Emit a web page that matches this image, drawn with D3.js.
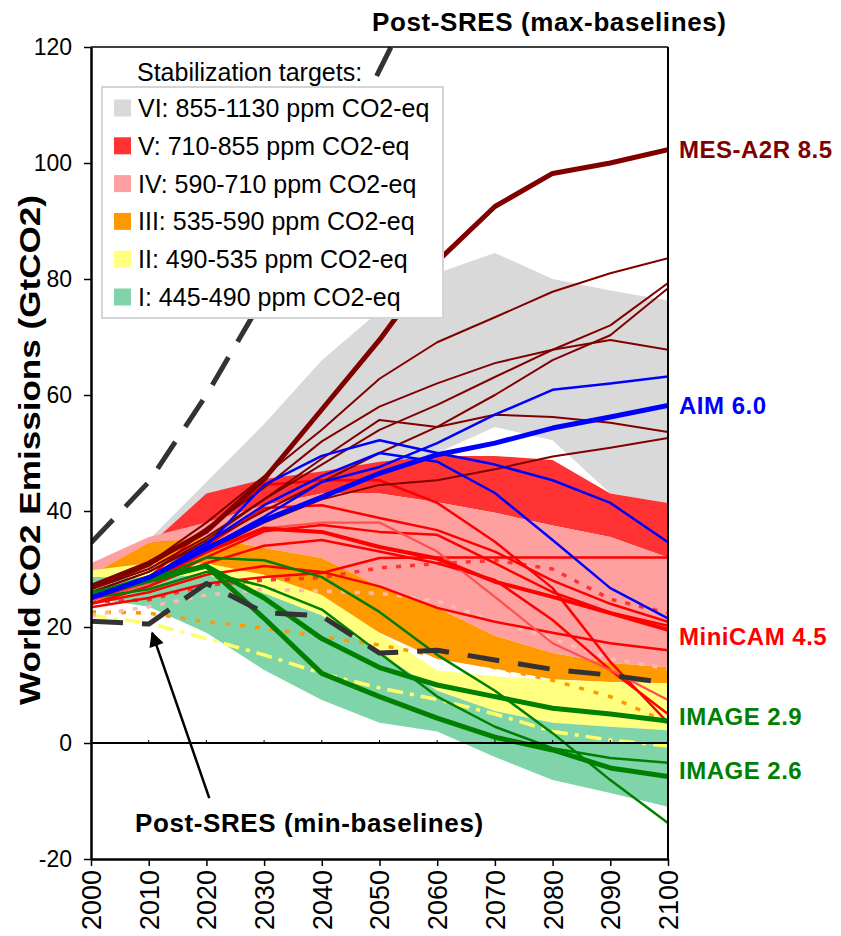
<!DOCTYPE html>
<html>
<head>
<meta charset="utf-8">
<script src="https://cdn.jsdelivr.net/npm/d3@7"></script>
<style>
  body { margin: 0; background: #fff; }
  text { font-family: "Liberation Sans", Arial, sans-serif; }
</style>
</head>
<body>
<svg id="chart" width="841" height="936"></svg>
<script>
const YEARS = d3.range(2000, 2101, 10);
const X_TICKS = d3.range(2000, 2101, 10);
const Y_TICKS = d3.range(-20, 121, 20);

// stabilization category ranges (GtCO2), upper / lower edge
const BAND_VI_HI  = [29, 35, 45, 55, 66, 74.5, 81, 84.5, 80, 78, 76.3];
const BAND_VI_LO  = [26, 30, 36, 40, 44, 47, 50, 54.5, 52.2, 43, 41.4];
const BAND_V_HI   = [28, 34, 43, 45.5, 46.8, 48.5, 49.5, 49.5, 48.8, 43, 41.4];
const BAND_V_LO   = [26, 33, 38, 41, 43, 43, 41.5, 39.7, 37.5, 35.5, 32];
const BAND_IV_HI  = [31, 35.5, 38, 41, 43, 43, 41.5, 39.7, 37.5, 35.5, 32];
const BAND_IV_LO  = [29, 34.5, 35.5, 33.6, 31.9, 27, 23.3, 18.5, 15.5, 13.8, 13.1];
const BAND_III_HI = [29, 34.5, 35.5, 33.6, 31.9, 27, 23.3, 18.5, 15.5, 13.8, 13.1];
const BAND_III_LO = [26, 28, 29, 27.5, 24.1, 19, 14.5, 12.8, 11, 10.5, 10.3];
const BAND_II_HI  = [29.8, 31, 31, 29, 25.5, 19, 12.5, 11.5, 10.9, 10.5, 10.3];
const BAND_II_LO  = [27.5, 27, 27, 25.8, 22, 15.5, 9, 5.5, 3.5, 2.8, 2.2];
const BAND_I_HI   = [28.6, 28.5, 29, 25.8, 22, 15.5, 9, 5.5, 3.5, 2.8, 2.2];
const BAND_I_LO   = [25, 23.5, 19, 12.6, 7.4, 3.5, 2, -2.4, -6.4, -8.6, -11];

const BAND_NAMES = ["VI: 855-1130 ppm CO2-eq", "V: 710-855 ppm CO2-eq", "IV: 590-710 ppm CO2-eq",
                    "III: 535-590 ppm CO2-eq", "II: 490-535 ppm CO2-eq", "I: 445-490 ppm CO2-eq"];

// baselines
const MAX_BASELINE = [34.5, 45, 60, 77, 96, 116, 136, null, null, null, null];
const MIN_BASELINE = [21, 20.5, 27.5, 22.5, 21.9, 15.5, 16, 14.3, 12.7, 11.7, 10.3];

// highlighted scenarios
const MES_A2R   = [27, 31, 36.5, 45.5, 57.5, 69.5, 83, 92.5, 98.2, 100, 102.3];
const AIM       = [25, 28.5, 33.5, 38.4, 42.4, 46.5, 49.7, 51.7, 54.3, 56.2, 58.2];
const MINICAM   = [25, 28, 33, 37, 36.4, 33.8, 31.8, 27.8, 25.2, 22.4, 19.5];
const IMAGE_29  = [25.5, 28, 30.5, 25, 18, 13, 10, 8, 6, 5, 3.8];
const IMAGE_26  = [25.5, 28.5, 30.5, 21.5, 12, 8, 4.3, 1, -1.2, -4.3, -5.8];

// other scenarios (thin lines)
const DARKRED_RUNS = [
  [27, 31, 38, 46, 54, 62.8, 69.1, 73.4, 77.8, 81, 83.6],
  [26.5, 30, 35.5, 42, 48, 54, 58.3, 63.1, 67.8, 72, 79.3],
  [26, 29.5, 34.5, 40, 45, 50, 54.5, 60, 66, 70.3, 78.4],
  [26, 29.5, 35, 42, 49, 55.7, 54.5, 56.6, 56.2, 55.2, 53.6],
  [25.5, 28.5, 33, 38, 42, 44.5, 45.3, 47.2, 49.4, 50.9, 52.6],
  [26.5, 30.5, 37, 44, 52, 58, 62, 65.5, 67.8, 69.5, 67.8]
];
const BLUE_RUNS = [
  [25.5, 28, 34, 44.5, 49.5, 52.2, 50, 48, 45.3, 41.4, 34.6],
  [25.5, 28, 33.5, 39, 45, 47.6, 51.7, 56.6, 60.9, 62, 63.2],
  [25, 28.5, 34.5, 41, 46, 50, 48.5, 43.1, 35, 26.7, 21.5]
];
const RED_RUNS = [
  [25, 28.5, 37, 44.5, 45.3, 45.3, 41.4, 34.7, 26.7, 14, 3.5],
  [24.5, 28, 34, 40.5, 41, 38.8, 36.7, 33, 28, 24, 20.9],
  [24, 27, 32, 36.5, 37.6, 36.4, 35.9, 31, 26, 22.5, 20.2],
  [23.4, 25, 27.5, 28.6, 29.3, 31.9, 32, 32, 32, 32, 32],
  [24, 26, 29, 30.5, 29.5, 27, 23.3, 20.9, 19, 17.2, 16],
  [24, 27, 31, 34, 35, 33, 31, 28.1, 21.2, 12.6, 5]
];
const LIGHTRED_RUN = [24.5, 27.5, 33, 37, 38, 38, 33, 25.2, 17.2, 12.6, 7.4];
const GREEN_RUNS = [
  [26, 28, 32, 31.5, 28.6, 22.6, 15.2, 9, 1.7, -6.4, -13.8],
  [25, 26.5, 29.5, 27, 23, 15.5, 8, 2.8, -0.9, -2.6, -3.4]
];
const RED_DOTTED    = [24.3, 24.7, 27.2, 28.1, 28.5, 30.2, 30.9, 31.5, 30, 24.8, 22.4];
const PINK_DOTTED   = [22, 23.5, 25.5, 26.5, 26.2, 25.8, 24.5, 21, 18, 14.5, 12.8];
const ORANGE_DOTTED = [22.6, 22.4, 20.9, 19.8, 18.3, 16.9, 15, 13, 10.8, 8, 3.5];
const YELLOW_DASHDOT = [22, 20.7, 18, 15.2, 12, 9.5, 7.5, 5, 2, 0.5, -0.5];

const LABELS = [
  { text: "MES-A2R 8.5", value: 102.3, color: "#800000" },
  { text: "AIM 6.0", value: 58.2, color: "#0000ff" },
  { text: "MiniCAM 4.5", value: 18.3, color: "#ff0000" },
  { text: "IMAGE 2.9", value: 4.5, color: "#008000" },
  { text: "IMAGE 2.6", value: -4.8, color: "#008000" }
];

const svg = d3.select("#chart");

const x = d3.scaleLinear().domain([2000, 2100]).range([91, 668]);
const y = d3.scaleLinear().domain([-20, 120]).range([859, 47]);

svg.append("defs").append("clipPath").attr("id", "plotclip")
  .append("rect")
    .attr("x", x(2000)).attr("y", y(120))
    .attr("width", x(2100) - x(2000)).attr("height", y(-20) - y(120));

const plot = svg.append("g").attr("clip-path", "url(#plotclip)");

// bands
const bands = [
  { hi: BAND_VI_HI, lo: BAND_VI_LO, color: "#d9d9d9" },
  { hi: BAND_V_HI, lo: BAND_V_LO, color: "#ff3333" },
  { hi: BAND_IV_HI, lo: BAND_IV_LO, color: "#ffa0a0" },
  { hi: BAND_III_HI, lo: BAND_III_LO, color: "#ff9900" },
  { hi: BAND_II_HI, lo: BAND_II_LO, color: "#ffff80" },
  { hi: BAND_I_HI, lo: BAND_I_LO, color: "#80d4aa" }
];

const area = d3.area()
  .x(d => x(d.year))
  .y0(d => y(d.lo))
  .y1(d => y(d.hi));

plot.selectAll("path.band")
  .data(bands)
  .join("path")
    .attr("class", "band")
    .attr("fill", d => d.color)
    .attr("d", d => area(YEARS.map((yr, i) => ({ year: yr, hi: d.hi[i], lo: d.lo[i] }))));

const line = d3.line()
  .defined(d => d != null)
  .x((d, i) => x(YEARS[i]))
  .y(d => y(d));

function drawLine(values, color, width, dash) {
  plot.append("path")
    .attr("fill", "none")
    .attr("stroke", color)
    .attr("stroke-width", width)
    .attr("stroke-dasharray", dash || null)
    .attr("stroke-linejoin", "round")
    .attr("d", line(values));
}

// dotted scenario lines
drawLine(ORANGE_DOTTED, "#ff9900", 3.5, "5,10");
drawLine(YELLOW_DASHDOT, "#ffff66", 3.5, "16,7,4,7");
drawLine(PINK_DOTTED, "#ffb8b8", 3.5, "5,9");
drawLine(RED_DOTTED, "#ff3333", 3.5, "5,9");

// thin runs
RED_RUNS.forEach(r => drawLine(r, "#ff0000", 2.5));
drawLine(LIGHTRED_RUN, "#ff5050", 2.2);
DARKRED_RUNS.forEach(r => drawLine(r, "#800000", 2));
BLUE_RUNS.forEach(r => drawLine(r, "#0000ff", 2.5));
GREEN_RUNS.forEach(r => drawLine(r, "#008000", 2.5));

// highlighted runs
drawLine(MINICAM, "#ff0000", 4);
drawLine(IMAGE_29, "#008000", 5);
drawLine(IMAGE_26, "#008000", 5);
drawLine(AIM, "#0000ff", 5);
drawLine(MES_A2R, "#800000", 5);

// baselines
drawLine(MAX_BASELINE, "#333333", 5, "32,18");
drawLine(MIN_BASELINE, "#333333", 5, "32,19");

// zero line with small ticks
svg.append("line")
  .attr("x1", x(2000)).attr("x2", x(2100))
  .attr("y1", y(0)).attr("y2", y(0))
  .attr("stroke", "#000").attr("stroke-width", 2);
svg.append("g").selectAll("line")
  .data(X_TICKS)
  .join("line")
    .attr("x1", d => x(d)).attr("x2", d => x(d))
    .attr("y1", y(0)).attr("y2", y(0) - 3)
    .attr("stroke", "#000").attr("stroke-width", 1);

// frame
svg.append("line")
  .attr("x1", x(2000)).attr("x2", x(2100))
  .attr("y1", y(120)).attr("y2", y(120))
  .attr("stroke", "#000").attr("stroke-width", 1.5);
svg.append("line")
  .attr("x1", x(2100)).attr("x2", x(2100))
  .attr("y1", y(120)).attr("y2", y(-20))
  .attr("stroke", "#000").attr("stroke-width", 2);

// y axis
svg.append("g")
  .attr("transform", `translate(${x(2000)},0)`)
  .call(d3.axisLeft(y).tickValues(Y_TICKS).tickFormat(d => String(d))
    .tickSize(7).tickSizeOuter(0).tickPadding(12))
  .call(ax => ax.select(".domain").attr("stroke-width", 2.5))
  .call(ax => ax.selectAll(".tick line").attr("stroke-width", 1.5))
  .call(ax => ax.selectAll("text")
    .attr("font-size", 23)
    .attr("fill", "#000")
    .style("font-family", "'Liberation Sans', Arial, sans-serif"));

// x axis
svg.append("g")
  .attr("transform", `translate(0,${y(-20)})`)
  .call(d3.axisBottom(x).tickValues(X_TICKS).tickFormat(d3.format("d")).tickSize(7).tickSizeOuter(0))
  .call(ax => ax.select(".domain").attr("stroke-width", 2.5))
  .call(ax => ax.selectAll(".tick line").attr("stroke-width", 1.5))
  .call(ax => ax.selectAll("text")
    .attr("font-size", 27)
    .attr("fill", "#000")
    .attr("transform", "rotate(-90)")
    .attr("text-anchor", "end")
    .attr("x", -11)
    .attr("y", 0)
    .attr("dy", "0.35em")
    .style("font-family", "'Liberation Sans', Arial, sans-serif"));

// y axis title
svg.append("text")
  .attr("transform", `translate(40,${(y(120) + y(-20)) / 2 - 3}) rotate(-90)`)
  .attr("text-anchor", "middle")
  .attr("font-size", 30)
  .attr("font-weight", "bold")
  .attr("textLength", 510)
  .attr("lengthAdjust", "spacingAndGlyphs")
  .text("World CO2 Emissions (GtCO2)");

// series labels on the right
svg.append("g").selectAll("text")
  .data(LABELS)
  .join("text")
    .attr("x", x(2100) + 11)
    .attr("y", d => y(d.value))
    .attr("dy", "0.35em")
    .attr("font-size", 24)
    .attr("font-weight", "bold")
    .attr("letter-spacing", 0.5)
    .attr("fill", d => d.color)
    .text(d => d.text);

// baseline annotations
svg.append("text")
  .attr("x", 372).attr("y", 31)
  .attr("font-size", 26)
  .attr("font-weight", "bold")
  .attr("letter-spacing", 0.6)
  .text("Post-SRES (max-baselines)");

svg.append("text")
  .attr("x", 135).attr("y", 832)
  .attr("font-size", 26)
  .attr("font-weight", "bold")
  .attr("letter-spacing", 0.6)
  .text("Post-SRES (min-baselines)");

svg.select("defs").append("marker")
  .attr("id", "arrowhead")
  .attr("viewBox", "0 0 10 10")
  .attr("refX", 9).attr("refY", 5)
  .attr("markerWidth", 7).attr("markerHeight", 6)
  .attr("markerUnits", "strokeWidth")
  .attr("orient", "auto")
  .append("path").attr("d", "M0,0 L10,5 L0,10 Z").attr("fill", "#000");

svg.append("line")
  .attr("x1", x(2020.5)).attr("y1", y(-9.5))
  .attr("x2", x(2010.6)).attr("y2", y(19))
  .attr("stroke", "#000").attr("stroke-width", 2.5)
  .attr("marker-end", "url(#arrowhead)");

// legend
const legend = svg.append("g");
legend.append("text")
  .attr("x", 137).attr("y", 81)
  .attr("font-size", 25)
  .text("Stabilization targets:");
legend.append("rect")
  .attr("x", 102).attr("y", 87)
  .attr("width", 341).attr("height", 231)
  .attr("fill", "#fff")
  .attr("stroke", "#d4d4d4").attr("stroke-width", 2);

const rows = legend.selectAll("g.row")
  .data(bands.map((b, i) => ({ color: b.color, name: BAND_NAMES[i] })))
  .join("g")
    .attr("class", "row")
    .attr("transform", (d, i) => `translate(0,${108 + i * 37.8})`);
rows.append("rect")
  .attr("x", 114).attr("y", -8.5)
  .attr("width", 17).attr("height", 17)
  .attr("fill", d => d.color);
rows.append("text")
  .attr("x", 138).attr("y", 0)
  .attr("dy", "0.36em")
  .attr("font-size", 25)
  .text(d => d.name);
</script>
</body>
</html>
